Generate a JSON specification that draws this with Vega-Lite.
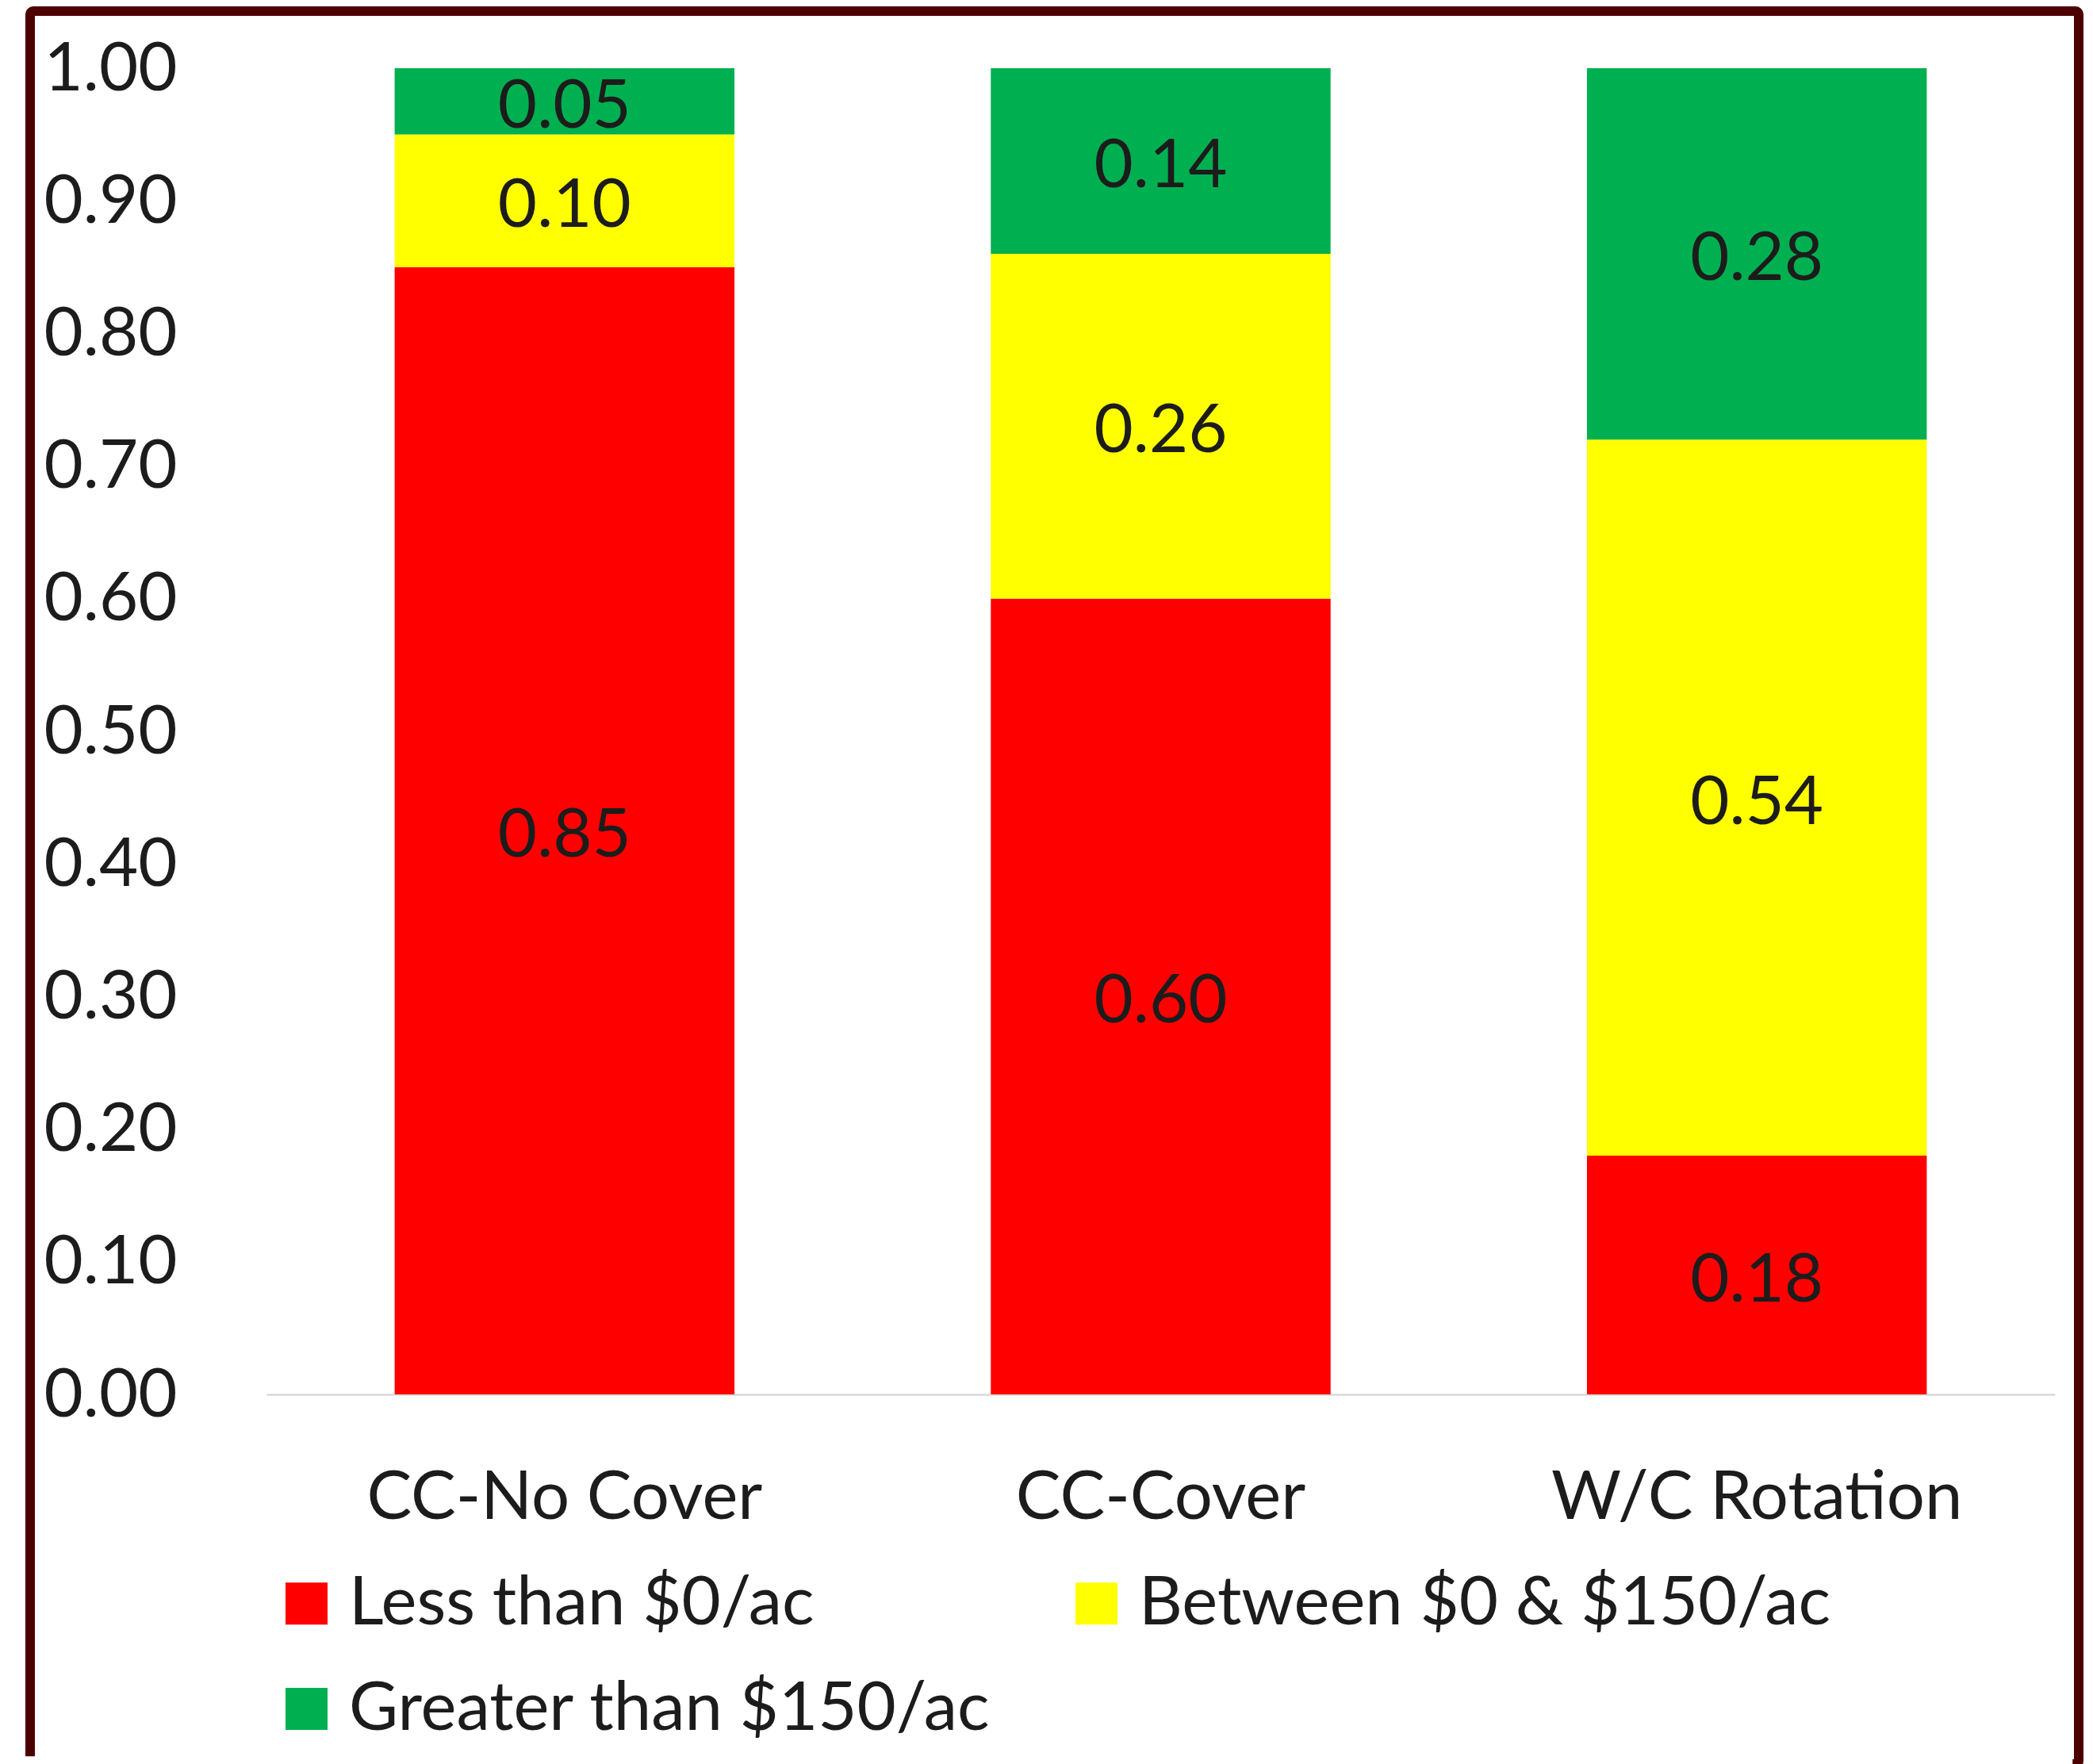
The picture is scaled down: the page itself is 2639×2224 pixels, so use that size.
{
  "$schema": "https://vega.github.io/schema/vega-lite/v6.json",
  "width": 2583,
  "height": 2210,
  "autosize": {"type": "none"},
  "padding": {"left": 38, "top": 14, "right": 18, "bottom": 0},
  "background": "white",
  "config": {
    "font": "Lato",
    "view": {
      "stroke": "#4d0000",
      "strokeWidth": 12,
      "strokeDash": [4793, 2583, 2240, 0],
      "cornerRadius": 4
    }
  },
  "data": {
    "values": [
      {"system": "CC-No Cover", "range": "Less than $0/ac", "rank": 1, "share": 0.85},
      {"system": "CC-No Cover", "range": "Between $0 & $150/ac", "rank": 2, "share": 0.10},
      {"system": "CC-No Cover", "range": "Greater than $150/ac", "rank": 3, "share": 0.05},
      {"system": "CC-Cover", "range": "Less than $0/ac", "rank": 1, "share": 0.60},
      {"system": "CC-Cover", "range": "Between $0 & $150/ac", "rank": 2, "share": 0.26},
      {"system": "CC-Cover", "range": "Greater than $150/ac", "rank": 3, "share": 0.14},
      {"system": "W/C Rotation", "range": "Less than $0/ac", "rank": 1, "share": 0.18},
      {"system": "W/C Rotation", "range": "Between $0 & $150/ac", "rank": 2, "share": 0.54},
      {"system": "W/C Rotation", "range": "Greater than $150/ac", "rank": 3, "share": 0.28}
    ]
  },
  "transform": [
    {"stack": "share", "groupby": ["system"], "sort": [{"field": "rank", "order": "ascending"}], "as": ["lo", "hi"]}
  ],
  "encoding": {
    "x": {
      "field": "system",
      "type": "nominal",
      "sort": ["CC-No Cover", "CC-Cover", "W/C Rotation"],
      "scale": {"range": [298, 2553], "paddingInner": 0.43, "paddingOuter": 0.215},
      "axis": {
        "title": null,
        "offset": -466,
        "domainColor": "#d9d9d9",
        "domainWidth": 2.5,
        "ticks": false,
        "labelAngle": 0,
        "labelFontSize": 85,
        "labelColor": "#1c1c1c",
        "labelPadding": 89,
        "labelLimit": 1500
      }
    }
  },
  "layer": [
    {
      "mark": {"type": "bar", "strokeWidth": 0},
      "encoding": {
        "y": {
          "field": "lo",
          "type": "quantitative",
          "scale": {"domain": [0, 1], "range": [1744, 72], "nice": false, "zero": false},
          "axis": {
            "title": null,
            "values": [0, 0.1, 0.2, 0.3, 0.4, 0.5, 0.6, 0.7, 0.8, 0.9, 1],
            "format": ".2f",
            "domain": false,
            "ticks": false,
            "grid": false,
            "offset": -185,
            "labelPadding": 0,
            "labelOffset": 1,
            "labelFontSize": 85,
            "labelColor": "#1c1c1c"
          }
        },
        "y2": {"field": "hi"},
        "color": {
          "field": "range",
          "type": "nominal",
          "scale": {
            "domain": ["Less than $0/ac", "Between $0 & $150/ac", "Greater than $150/ac"],
            "range": ["#ff0000", "#ffff00", "#00b050"]
          },
          "legend": {
            "title": null,
            "orient": "none",
            "direction": "horizontal",
            "legendX": 306,
            "legendY": 1965,
            "columns": 2,
            "symbolType": "square",
            "symbolSize": 2809,
            "symbolStrokeWidth": 0,
            "labelFontSize": 85,
            "labelColor": "#1c1c1c",
            "labelOffset": 11,
            "labelLimit": 1500,
            "columnPadding": 90,
            "rowPadding": 47,
            "padding": 0
          }
        }
      }
    },
    {
      "transform": [
        {"fold": ["lo", "hi"], "as": ["edge", "pos"]},
        {"aggregate": [{"op": "mean", "field": "pos", "as": "mid"}], "groupby": ["system", "range", "share"]}
      ],
      "mark": {"type": "text", "fontSize": 85, "color": "#1c1c1c", "baseline": "middle", "dy": 7},
      "encoding": {
        "y": {
          "field": "mid",
          "type": "quantitative",
          "scale": {"domain": [0, 1], "range": [1744, 72], "nice": false, "zero": false},
          "axis": {
            "title": null,
            "values": [0, 0.1, 0.2, 0.3, 0.4, 0.5, 0.6, 0.7, 0.8, 0.9, 1],
            "format": ".2f",
            "domain": false,
            "ticks": false,
            "grid": false,
            "offset": -185,
            "labelPadding": 0,
            "labelOffset": 1,
            "labelFontSize": 85,
            "labelColor": "#1c1c1c"
          }
        },
        "text": {"field": "share", "type": "quantitative", "format": ".2f"}
      }
    }
  ]
}
